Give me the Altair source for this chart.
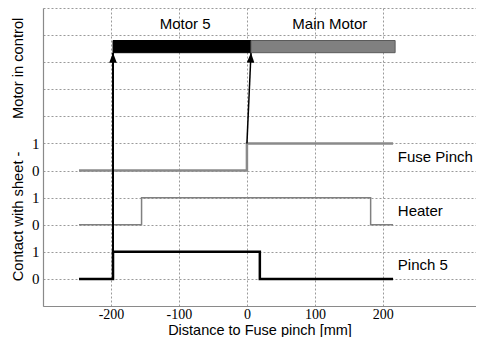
import altair as alt
import pandas as pd

# ---- data ----
pinch5_x = [-247, -197, -197, 19, 19, 215]
pinch5_y = [1, 1, 2, 2, 1, 1]
heater_x = [-247, -155, -155, 182, 182, 215]
heater_y = [3, 3, 4, 4, 3, 3]
fuse_x = [-247, 0, 0, 215]
fuse_y = [5, 5, 6, 6]

motor_names = ["Motor 5", "Main Motor"]
motor_start = [-197, 6]
motor_end = [6, 218]
motor_fill = ["#000000", "#808080"]
motor_stroke = ["#000000", "#5a5a5a"]
motor_label_x = [-91, 122]
bar_low, bar_high, motor_label_y = 9.35, 9.8, 10.4

arrow_x0 = [-197, 0]
arrow_y0 = [2, 6]
arrow_x1 = [-197, 6]
arrow_y1 = [9.35, 9.35]
arrow_angle = [0, 2.5]

series_labels = ["Pinch 5", "Heater", "Fuse Pinch"]
series_label_x = [222, 222, 222]
series_label_y = [1.5, 3.5, 5.5]

x_ticks = [-200, -100, 0, 100, 200]
y_levels = list(range(12))
y_tick_labels = ["", "0", "1", "0", "1", "0", "1", "", "", "", "", ""]

SANS = "Liberation Sans"
SERIF = "Liberation Serif"
NB = "\u00a0"

label_expr = "[" + ",".join("'" + s + "'" for s in y_tick_labels) + "][datum.value]"

X = alt.X(
    "x:Q",
    scale=alt.Scale(domain=[-300, 337], nice=False, zero=False),
    axis=alt.Axis(
        values=x_ticks, labelExpr="'' + datum.value",
        title="Distance to Fuse pinch [mm]", grid=True,
        gridDash=[2, 2], gridColor="#9a9a9a", gridWidth=1, ticks=False,
        domainColor="#8a8a8a", domainWidth=1.2,
        labelFont=SERIF, labelFontSize=14, labelColor="#000", labelPadding=1,
        titleFont=SANS, titleFontSize=14.5, titleFontWeight="normal",
        titleColor="#000", titleY=28, titleBaseline="alphabetic",
    ),
)
Y = alt.Y(
    "y:Q",
    scale=alt.Scale(domain=[0, 11], nice=False, zero=False),
    axis=alt.Axis(
        values=y_levels, labelExpr=label_expr, grid=True, gridDash=[2, 2],
        gridColor="#9a9a9a", gridWidth=1, ticks=False,
        domainColor="#8a8a8a", domainWidth=1.2,
        labelFont=SERIF, labelFontSize=15, labelColor="#000", labelPadding=4,
        title="Contact with sheet" + NB + "-" + NB * 8 + "Motor in control",
        titleFont=SANS, titleFontSize=14.7, titleFontWeight="normal",
        titleColor="#000", titleX=-25, titleY=141, titleAngle=-90,
        titleAlign="center", titleBaseline="middle",
    ),
)


def series_df(xs, ys):
    return pd.DataFrame({"x": xs, "y": ys, "o": list(range(len(xs)))})


def line_layer(xs, ys, color, width):
    return alt.Chart(series_df(xs, ys)).mark_line(
        color=color, strokeWidth=width, strokeCap="butt", strokeJoin="miter"
    ).encode(x=X, y=Y, order="o:Q")


pinch_layer = line_layer(pinch5_x, pinch5_y, "#000000", 2.5)
heater_layer = line_layer(heater_x, heater_y, "#808080", 1.5)
fuse_layer = line_layer(fuse_x, fuse_y, "#8a8a8a", 2.5)

bars_df = pd.DataFrame({
    "x": motor_start, "x2": motor_end,
    "y": [bar_low] * 2, "y2": [bar_high] * 2,
    "fill": motor_fill, "stroke": motor_stroke,
})
bars = alt.Chart(bars_df).mark_rect(strokeWidth=1).encode(
    x=X, x2="x2:Q", y=Y, y2="y2:Q",
    fill=alt.Fill("fill:N", scale=None),
    stroke=alt.Stroke("stroke:N", scale=None),
)

arrows_df = pd.DataFrame({
    "x": arrow_x0, "y": arrow_y0, "x2": arrow_x1, "y2": arrow_y1,
    "w": [2, 1.5],
})
arrow_lines = alt.Chart(arrows_df).mark_rule(color="#000").encode(
    x=X, y=Y, x2="x2:Q", y2="y2:Q",
    strokeWidth=alt.StrokeWidth("w:Q", scale=None),
)
heads_df = pd.DataFrame({"x": arrow_x1, "y": arrow_y1, "a": arrow_angle})
arrow_heads = alt.Chart(heads_df).mark_point(
    shape="M0,0L-0.38,1L0.38,1Z", filled=True, size=400, color="#000",
    opacity=1, strokeWidth=0,
).encode(x=X, y=Y, angle=alt.Angle("a:Q", scale=None))

motor_text_df = pd.DataFrame({
    "x": motor_label_x, "y": [motor_label_y] * 2, "t": motor_names
})
motor_text = alt.Chart(motor_text_df).mark_text(
    font=SANS, fontSize=15, color="#000", align="center", baseline="middle"
).encode(x=X, y=Y, text="t:N")

series_text_df = pd.DataFrame({
    "x": series_label_x, "y": series_label_y, "t": series_labels
})
series_text = alt.Chart(series_text_df).mark_text(
    font=SANS, fontSize=15, color="#000", align="left", baseline="middle"
).encode(x=X, y=Y, text="t:N")

chart = alt.layer(
    heater_layer, fuse_layer, pinch_layer, arrow_lines, bars,
    arrow_heads, motor_text, series_text,
).properties(
    width=433, height=298,
    autosize=alt.AutoSizeParams(type="none"),
    padding={"left": 35, "top": 0, "right": 0, "bottom": 31},
    background="white",
).configure_view(stroke=None)

chart.save("out.html", embed_options={"renderer": "svg", "actions": False})
